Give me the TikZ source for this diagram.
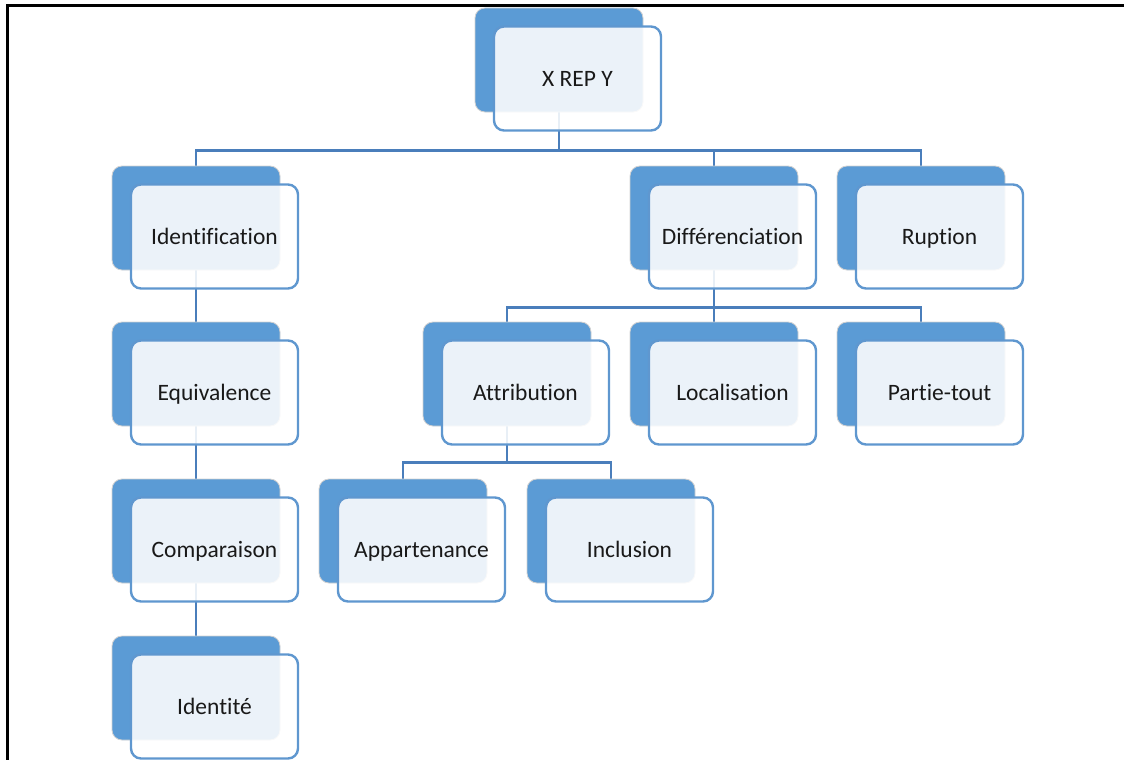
\documentclass[tikz,border=0pt]{standalone}
\usepackage{fontspec}
\setmainfont{Carlito}[Ligatures={NoCommon}]
\usepackage{xcolor}
\usepackage{tikz}
\usetikzlibrary{positioning,backgrounds,calc}
\definecolor{boxblue}{HTML}{5B9BD5}
\definecolor{edgeblue}{HTML}{5F97CF}
\definecolor{linkblue}{HTML}{4A7EBB}

\begin{document}
\begin{tikzpicture}[x=1pt,y=-1pt,
	back/.style={rectangle,rounded corners=10pt,fill=boxblue,draw=black!18,line width=0.8pt,minimum width=168pt,minimum height=104pt,inner sep=0pt},
	front/.style={rectangle,rounded corners=10pt,fill=white,fill opacity=0.88,text opacity=1,draw=edgeblue,line width=2.4pt,minimum width=167pt,minimum height=104pt,inner sep=0pt,text height=18pt,text depth=2pt,text=black!90,font=\fontsize{23.5}{28}\selectfont},
	link/.style={draw=linkblue,line width=2.2pt}]
		\useasboundingbox (0,0) rectangle (1124,760);
		\draw[line width=3pt] (7,760) -- (7,6) -- (1124,6);
		\node[back] (xrepb) at (559,60) {};
		\node[front] (xrep) at ([shift={(18.5,18.5)}]xrepb) {X REP Y};
		\node[back] (identb) at (196,218) {};
		\node[front] (ident) at ([shift={(18.5,18.5)}]identb) {Identification};
		\node[back] (diffb) at (714,218) {};
		\node[front] (diff) at ([shift={(18.5,18.5)}]diffb) {Différenciation};
		\node[back] (ruptb) at (921,218) {};
		\node[front] (rupt) at ([shift={(18.5,18.5)}]ruptb) {Ruption};
		\node[back] (equivb) at (196,374) {};
		\node[front] (equiv) at ([shift={(18.5,18.5)}]equivb) {Equivalence};
		\node[back] (attrb) at (507,374) {};
		\node[front] (attr) at ([shift={(18.5,18.5)}]attrb) {Attribution};
		\node[back] (locb) at (714,374) {};
		\node[front] (loc) at ([shift={(18.5,18.5)}]locb) {Localisation};
		\node[back] (partb) at (921,374) {};
		\node[front] (part) at ([shift={(18.5,18.5)}]partb) {Partie-tout};
		\node[back] (compb) at (196,531) {};
		\node[front] (comp) at ([shift={(18.5,18.5)}]compb) {Comparaison};
		\node[back] (appb) at (403,531) {};
		\node[front] (app) at ([shift={(18.5,18.5)}]appb) {Appartenance};
		\node[back] (inclb) at (611,531) {};
		\node[front] (incl) at ([shift={(18.5,18.5)}]inclb) {Inclusion};
		\node[back] (identiteb) at (196,688) {};
		\node[front] (identite) at ([shift={(18.5,18.5)}]identiteb) {Identité};
		\begin{scope}[on background layer]
			\draw[link] (xrepb.south) -- ++(0,38) coordinate (bus1);
			\draw[link] (identb.north) |- (bus1) -| (ruptb.north);
			\draw[link] (diffb.north) -- (diffb.north |- bus1);
			\draw[link] (diffb.south) -- ++(0,37) coordinate (bus2);
			\draw[link] (attrb.north) |- (bus2) -| (partb.north);
			\draw[link] (locb.north) -- (locb.north |- bus2);
			\draw[link] (attrb.south) -- ++(0,36) coordinate (bus3);
			\draw[link] (appb.north) |- (bus3) -| (inclb.north);
			\draw[link] (identb) -- (equivb) -- (compb) -- (identiteb);
		\end{scope}
	\end{tikzpicture}
\end{document}
